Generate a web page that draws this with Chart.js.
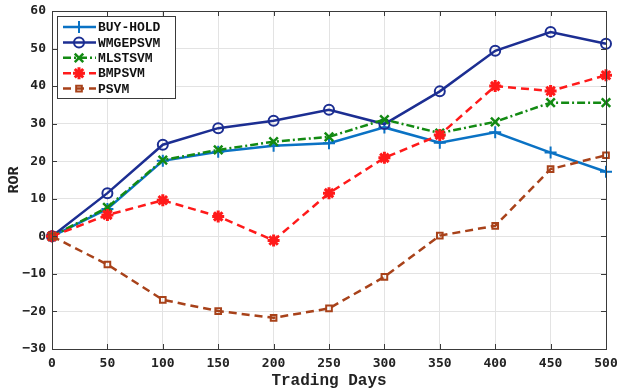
<!DOCTYPE html>
<html>
<head>
<meta charset="utf-8">
<script src="https://cdn.jsdelivr.net/npm/chart.js@4/dist/chart.umd.min.js"></script>
<style>
  html, body { margin: 0; padding: 0; background: #fff; }
  #wrap { width: 617px; height: 392px; }
</style>
</head>
<body>
<div id="wrap"><canvas id="rorChart" width="617" height="392"></canvas></div>
<script>
// trading days on the x axis
const days = [0, 50, 100, 150, 200, 250, 300, 350, 400, 450, 500];

// rate of return for each strategy
const buyHold  = [0, 7.3, 20.1, 22.5, 24.1, 24.8, 29.0, 24.9, 27.7, 22.3, 17.2];
const wmgepsvm = [0, 11.5, 24.4, 28.8, 30.8, 33.7, 29.9, 38.6, 49.4, 54.4, 51.3];
const mlstsvm  = [0, 7.7, 20.3, 23.0, 25.2, 26.5, 31.1, 27.5, 30.5, 35.6, 35.6];
const bmpsvm   = [0, 5.7, 9.6, 5.3, -1.1, 11.5, 20.9, 27.0, 40.0, 38.7, 42.9];
const psvm     = [0, -7.5, -16.9, -19.9, -21.7, -19.2, -10.8, 0.2, 2.8, 17.9, 21.6];

const yTicks = [60, 50, 40, 30, 20, 10, 0, -10, -20, -30];

const tickFont = { family: '"DejaVu Sans Mono", monospace', weight: 'bold', size: 13 };
const titleFont = { family: '"Liberation Mono", monospace', weight: 'bold', size: 16 };
const axisColor = '#3a3a3a';

function series(label, data, color, style, radius, dash, order) {
  return {
    label: label,
    data: data.map((v, i) => ({ x: days[i], y: v })),
    borderColor: color,
    backgroundColor: 'rgba(0,0,0,0)',
    borderWidth: 2.5,
    borderDash: dash,
    pointStyle: style,
    pointRadius: radius,
    pointBorderWidth: 2,
    pointBorderColor: color,
    pointBackgroundColor: 'rgba(0,0,0,0)',
    tension: 0,
    clip: false,
    order: order
  };
}

const datasets = [
  series('BUY-HOLD', buyHold, '#0a72c4', 'cross', 6, [], 5),
  series('WMGEPSVM', wmgepsvm, '#1c2e92', 'circle', 5, [], 4),
  series('MLSTSVM', mlstsvm, '#138a13', 'crossRot', 6, [8, 3, 2, 3], 3),
  series('BMPSVM', bmpsvm, '#ff1a1a', 'star', 6, [8, 5], 2),
  series('PSVM', psvm, '#a8421a', 'rect', 4, [8, 5], 1)
];
datasets[2].pointBorderWidth = 2.5;
datasets[3].pointBorderWidth = 3;

// box around the axes, inward ticks on all sides and the legend in the corner
const framePlugin = {
  id: 'frame',
  afterDatasetsDraw(chart) {
    const ctx = chart.ctx;
    const a = chart.chartArea;
    const xs = chart.scales.x, ys = chart.scales.y;
    ctx.save();
    ctx.strokeStyle = axisColor;
    ctx.lineWidth = 1;
    ctx.setLineDash([]);
    ctx.strokeRect(a.left + 0.5, a.top + 0.5, a.right - a.left, a.bottom - a.top);
    ctx.beginPath();
    days.forEach(d => {
      const px = Math.round(xs.getPixelForValue(d)) + 0.5;
      ctx.moveTo(px, a.bottom); ctx.lineTo(px, a.bottom - 5);
      ctx.moveTo(px, a.top); ctx.lineTo(px, a.top + 5);
    });
    yTicks.forEach(t => {
      const py = Math.round(ys.getPixelForValue(t)) + 0.5;
      ctx.moveTo(a.left, py); ctx.lineTo(a.left + 5, py);
      ctx.moveTo(a.right, py); ctx.lineTo(a.right - 5, py);
    });
    ctx.stroke();

    // legend
    const bx = Math.round(a.left) + 5, by = Math.round(a.top) + 5, bw = 118, bh = 82;
    ctx.fillStyle = '#fff';
    ctx.fillRect(bx, by, bw, bh);
    ctx.strokeStyle = axisColor;
    ctx.strokeRect(bx + 0.5, by + 0.5, bw, bh);
    ctx.font = 'bold 13px "Liberation Mono", monospace';
    ctx.textBaseline = 'middle';
    chart.data.datasets.forEach((ds, i) => {
      const cy = by + 11 + i * 15.4;
      ctx.strokeStyle = ds.borderColor;
      ctx.lineWidth = 2.5;
      ctx.setLineDash(ds.borderDash);
      ctx.beginPath();
      ctx.moveTo(bx + 6, cy); ctx.lineTo(bx + 39, cy);
      ctx.stroke();
      ctx.setLineDash([]);
      ctx.lineWidth = ds.pointBorderWidth;
      ctx.fillStyle = 'rgba(0,0,0,0)';
      Chart.helpers.drawPoint(ctx, {
        pointStyle: ds.pointStyle, radius: ds.pointRadius, borderWidth: ds.pointBorderWidth, rotation: 0
      }, bx + 22, cy);
      ctx.fillStyle = '#111';
      ctx.fillText(ds.label, bx + 41, cy + 1);
    });
    ctx.restore();
  }
};

const ctx = document.getElementById('rorChart').getContext('2d');
new Chart(ctx, {
  type: 'line',
  data: { datasets: datasets },
  options: {
    responsive: false,
    animation: false,
    layout: { padding: { left: 0, right: 11, top: 11, bottom: 0 } },
    plugins: { legend: { display: false }, tooltip: { enabled: false } },
    scales: {
      x: {
        type: 'linear',
        min: 0, max: 500,
        afterBuildTicks: s => { s.ticks = days.map(v => ({ value: v })); },
        afterFit: s => { s.height = 43; s.paddingRight = 0; s.paddingLeft = 0; },
        ticks: { color: '#222', font: tickFont, padding: 7, maxRotation: 0 },
        grid: { color: '#e3e3e3', drawTicks: false },
        border: { color: axisColor },
        title: { display: true, text: 'Trading Days', color: '#222', font: titleFont, padding: { top: 0, bottom: 1.5 } }
      },
      y: {
        min: -30, max: 60,
        afterBuildTicks: s => { s.ticks = yTicks.slice().reverse().map(v => ({ value: v })); },
        afterFit: s => { s.width = 52; s.paddingTop = 0; s.paddingBottom = 0; },
        ticks: {
          color: '#222', font: tickFont, padding: 6,
          callback: v => String(v).replace('-', '\u2212')
        },
        grid: { color: '#e3e3e3', drawTicks: false },
        border: { color: axisColor },
        title: { display: true, text: 'ROR', color: '#222', font: { family: titleFont.family, weight: 'bold', size: 15 }, padding: { top: 5, bottom: 0 } }
      }
    }
  },
  plugins: [framePlugin]
});
</script>
</body>
</html>
